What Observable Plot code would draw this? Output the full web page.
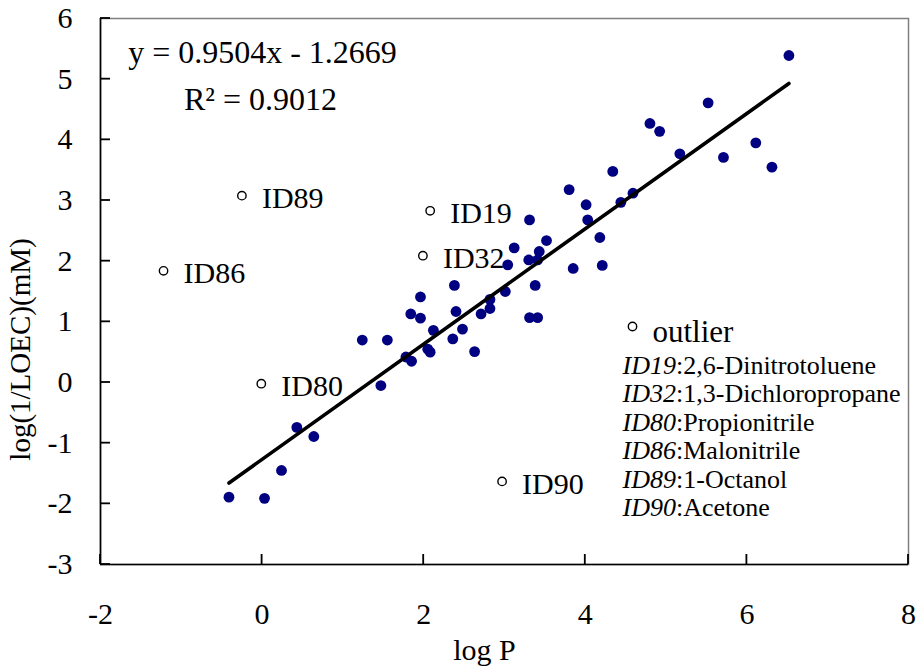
<!DOCTYPE html>
<html>
<head>
<meta charset="utf-8">
<script src="https://cdn.jsdelivr.net/npm/d3@7"></script>
<script src="https://cdn.jsdelivr.net/npm/@observablehq/plot@0.6"></script>
<style>
  html, body { margin: 0; padding: 0; background: white; }
  #chart { width: 919px; height: 670px; }
</style>
</head>
<body>
<div id="chart"></div>
<script>
// ---- Data ----
const xTicks = [-2, 0, 2, 4, 6, 8];
const yTicks = [-3, -2, -1, 0, 1, 2, 3, 4, 5, 6];

// regular compounds (filled dots)
const logP = [-0.41, 0.03, 0.24, 0.43, 0.64, 1.47, 1.24, 1.55, 1.78, 1.85,
  2.05, 2.08, 2.12, 1.84, 1.96, 1.96, 2.36, 2.48, 2.40, 2.38,
  2.63, 2.71, 2.82, 2.82, 3.01, 3.04, 3.12, 3.30, 3.31, 3.41,
  3.31, 3.38, 3.43, 3.41, 3.52, 3.80, 3.85, 4.01, 4.03, 4.18,
  4.21, 4.34, 4.44, 4.59, 4.80, 4.92, 5.17, 5.52, 5.71, 6.11,
  6.31, 6.52];
const logInvLOEC = [-1.89, -1.91, -1.45, -0.74, -0.89, -0.05, 0.70, 0.70, 0.42, 0.35,
  0.55, 0.50, 0.86, 1.13, 1.06, 1.41, 0.72, 0.88, 1.17, 1.60,
  0.51, 1.13, 1.22, 1.37, 1.50, 1.94, 2.22, 2.02, 1.07, 1.07,
  2.68, 1.60, 2.16, 2.02, 2.34, 3.18, 1.88, 2.93, 2.68, 2.39,
  1.93, 3.48, 2.97, 3.12, 4.27, 4.14, 3.77, 4.61, 3.71, 3.95,
  3.55, 5.39];

// outliers (open circles)
const outlierIds = ["ID19", "ID32", "ID80", "ID86", "ID89", "ID90"];
const outlierNames = ["2,6-Dinitrotoluene", "1,3-Dichloropropane", "Propionitrile", "Malonitrile", "1-Octanol", "Acetone"];
const outlierX = [2.08, 1.99, -0.01, -1.22, -0.25, 2.97];
const outlierY = [2.83, 2.09, -0.02, 1.84, 3.08, -1.63];

// regression
const slope = 0.9504;
const intercept = -1.2669;
const equationText = "y = 0.9504x - 1.2669";
const r2Text = "R\u00B2 = 0.9012";
const xTitle = "log P";
const yTitle = "log(1/LOEC)(mM)";
const legendTitle = "outlier";

// ---- Derived tables ----
const points = logP.map((x, i) => ({x, y: logInvLOEC[i]}));
const outliers = outlierIds.map((id, i) => ({id, x: outlierX[i], y: outlierY[i]}));
const [xmin, xmax] = d3.extent(logP);
const fitLine = [xmin, xmax].map(x => ({x, y: slope * x + intercept}));

const FONT = "Liberation Serif";
const T = {fill: "black", lineAnchor: "middle"};
const W = 919, H = 670, ML = 100, MT = 18, MR = 11, MB = 106;
const xDom = [-2, 8], yDom = [-3, 6];
// pixel -> domain unit conversion for the small inward tick marks
const pxX = (xDom[1] - xDom[0]) / (W - ML - MR);
const pxY = (yDom[1] - yDom[0]) / (H - MT - MB);
const TICK = 10, TW = 1.8;
const xTickRects = xTicks.map(v => ({x1: v - pxX * TW / 2, x2: v + pxX * TW / 2, y1: yDom[0], y2: yDom[0] + pxY * TICK}));
const yTickRects = yTicks.map(v => ({y1: v - pxY * TW / 2, y2: v + pxY * TW / 2, x1: xDom[0], x2: xDom[0] + pxX * TICK}));

const legendMarks = [];
legendMarks.push(Plot.dot([legendTitle], {frameAnchor: "top-left", dx: 532, dy: 308, r: 4.2, stroke: "black", strokeWidth: 1.4, fill: "white"}));
legendMarks.push(Plot.text([legendTitle], {...T, frameAnchor: "top-left", dx: 552, dy: 314, text: d => d, textAnchor: "start", fontSize: 31}));
outlierIds.forEach((id, i) => {
  const dy = 347 + i * 28.5;
  legendMarks.push(Plot.text([id], {...T, frameAnchor: "top-left", dx: 522, dy, text: d => d, textAnchor: "start", fontSize: 26, fontStyle: "italic"}));
  legendMarks.push(Plot.text([":" + outlierNames[i]], {...T, frameAnchor: "top-left", dx: 575.5, dy, text: d => d, textAnchor: "start", fontSize: 26}));
});

const chart = Plot.plot({
  width: W,
  height: H,
  marginLeft: ML,
  marginTop: MT,
  marginRight: MR,
  marginBottom: MB,
  style: {fontFamily: FONT, fontSize: "30px", background: "white", color: "black"},
  x: {domain: xDom, ticks: xTicks},
  y: {domain: yDom, ticks: yTicks},
  marks: [
    Plot.frame({stroke: "#808080", strokeWidth: 1.5}),
    // tick labels
    Plot.axisX(xTicks, {tickSize: 0, tickPadding: 38, label: null, fontSize: 30, tickFormat: d => d}),
    Plot.axisY(yTicks, {tickSize: 0, tickPadding: 28, label: null, fontSize: 30, tickFormat: d => d}),
    // axis lines
    Plot.ruleX([xDom[0]], {stroke: "black", strokeWidth: 1.6}),
    Plot.ruleY([yDom[0]], {stroke: "black", strokeWidth: 1.6}),
    // tick marks (inward), drawn as thin filled rectangles
    Plot.rect(xTickRects, {x1: "x1", x2: "x2", y1: "y1", y2: "y2", fill: "black"}),
    Plot.rect(yTickRects, {x1: "x1", x2: "x2", y1: "y1", y2: "y2", fill: "black"}),
    // axis titles
    Plot.text([xTitle], {...T, frameAnchor: "bottom", dx: -20, dy: 86, text: d => d, textAnchor: "middle", fontSize: 30}),
    Plot.text([yTitle], {...T, frameAnchor: "left", dx: -80, dy: 58, rotate: -90, text: d => d, textAnchor: "middle", fontSize: 29}),
    // data
    Plot.dot(points, {x: "x", y: "y", r: 5.4, fill: "#000080", stroke: "none"}),
    Plot.line(fitLine, {x: "x", y: "y", stroke: "black", strokeWidth: 3.6}),
    Plot.dot(outliers, {x: "x", y: "y", r: 4.2, stroke: "black", strokeWidth: 1.4, fill: "white"}),
    Plot.text(outliers, {...T, x: "x", y: "y", text: "id", dx: 20, dy: 3, textAnchor: "start", fontSize: 30}),
    // equation
    Plot.text([equationText], {...T, frameAnchor: "top-left", dx: 162, dy: 34, text: d => d, textAnchor: "middle", fontSize: 32}),
    Plot.text([r2Text], {...T, frameAnchor: "top-left", dx: 160, dy: 81, text: d => d, textAnchor: "middle", fontSize: 32}),
    ...legendMarks
  ]
});
document.getElementById("chart").appendChild(chart);
</script>
</body>
</html>
